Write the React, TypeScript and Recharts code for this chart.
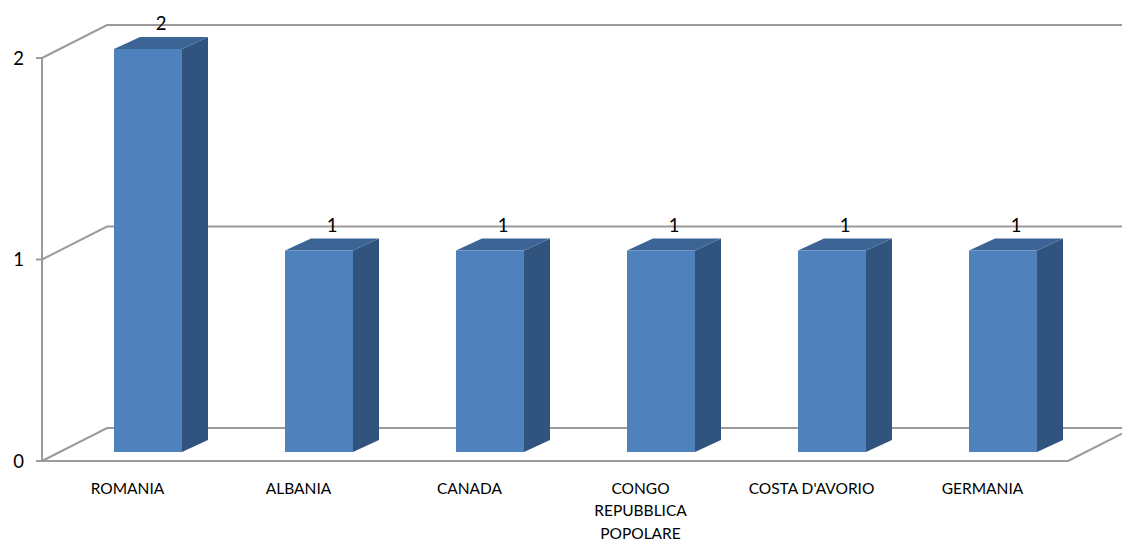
import React from "react";
import { BarChart, Bar, XAxis, YAxis, CartesianGrid, LabelList } from "recharts";

const categories = [
  "ROMANIA",
  "ALBANIA",
  "CANADA",
  "CONGO REPUBBLICA POPOLARE",
  "COSTA D'AVORIO",
  "GERMANIA",
];
const counts = [2, 1, 1, 1, 1, 1];
const yTicks = [0, 1, 2];
const categoryLabelLines = [
  ["ROMANIA"],
  ["ALBANIA"],
  ["CANADA"],
  ["CONGO", "REPUBBLICA", "POPOLARE"],
  ["COSTA D'AVORIO"],
  ["GERMANIA"],
];

const data = categories.map((name, i) => ({ name, value: counts[i] }));

const W = 1122;
const H = 540;
const FONT = "Lato, 'Open Sans', sans-serif";
const LINE = "#9b9b9b";
const WALL_DX = 65;
const WALL_DY = -33;
const FLOOR_Y = 461;
const BAR_SHIFT_X = 20;
const BAR_SHIFT_Y = -9;
const BAR_DX = 26;
const BAR_DY = -12;
const FRONT = "#4f81bd";
const TOP = "#3c6596";
const SIDE = "#31547e";

const GridLine = (props: any) => {
  const { x1, y1, x2 } = props;
  const isFloor = Math.abs(y1 - FLOOR_Y) < 1.5;
  return (
    <g key={`g-${props.index}-${y1}`}>
      <polyline
        points={`${x1},${y1} ${x1 + WALL_DX},${y1 + WALL_DY} ${x2 + WALL_DX + 20},${y1 + WALL_DY}`}
        fill="none"
        stroke={LINE}
        strokeWidth={2}
      />
      {isFloor && (
        <line
          x1={x2}
          y1={y1}
          x2={x2 + WALL_DX}
          y2={y1 + WALL_DY}
          stroke={LINE}
          strokeWidth={2}
        />
      )}
    </g>
  );
};

const Box3D = (props: any) => {
  const { x, y, width, height } = props;
  if (height == null || width == null) return null;
  const fx = x + BAR_SHIFT_X;
  const fy = y + BAR_SHIFT_Y;
  const w = width;
  const h = height;
  return (
    <g>
      <polygon
        points={`${fx + w},${fy} ${fx + w + BAR_DX},${fy + BAR_DY} ${fx + w + BAR_DX},${fy + h + BAR_DY} ${fx + w},${fy + h}`}
        fill={SIDE}
      />
      <polygon
        points={`${fx},${fy} ${fx + w},${fy} ${fx + w + BAR_DX},${fy + BAR_DY} ${fx + BAR_DX},${fy + BAR_DY}`}
        fill={TOP}
      />
      <rect x={fx} y={fy} width={w} height={h} fill={FRONT} />
    </g>
  );
};

const DataLabel = (props: any) => {
  const { x, y, width, value } = props;
  const cx = x + BAR_SHIFT_X + width / 2 + BAR_DX / 2;
  const cy = y + BAR_SHIFT_Y + BAR_DY - 7;
  return (
    <text x={cx} y={cy} textAnchor="middle" fontFamily={FONT} fontSize={18.5} fill="#000">
      {value}
    </text>
  );
};

const XTick = (props: any) => {
  const { x, y, payload } = props;
  const idx = categories.indexOf(payload.value);
  const lines = idx >= 0 ? categoryLabelLines[idx] : [String(payload.value)];
  return (
    <g>
      {lines.map((ln, i) => (
        <text
          key={i}
          x={x}
          y={y + 24.5 + i * 22.5}
          textAnchor="middle"
          fontFamily={FONT}
          fontSize={15.5}
          fill="#000"
        >
          {ln}
        </text>
      ))}
    </g>
  );
};

const YTick = (props: any) => {
  const { y, payload } = props;
  return (
    <text x={24} y={y + 6.5} textAnchor="end" fontFamily={FONT} fontSize={18.5} fill="#000">
      {payload.value}
    </text>
  );
};

export default function App() {
  return (
    <div style={{ position: "absolute", left: 0, top: 0, width: W, height: H, background: "#fff" }}>
      <BarChart
        width={W}
        height={H}
        data={data}
        margin={{ top: 58, right: 54, bottom: 0, left: 0 }}
      >
        <CartesianGrid vertical={false} horizontal={GridLine} />
        <XAxis
          dataKey="name"
          height={79}
          interval={0}
          tickLine={false}
          axisLine={{ stroke: LINE, strokeWidth: 2 }}
          tick={XTick}
        />
        <YAxis
          width={42}
          domain={[0, 2]}
          ticks={yTicks}
          allowDecimals={false}
          tickLine={{ stroke: LINE, strokeWidth: 2 }}
          tickSize={6}
          axisLine={{ stroke: LINE, strokeWidth: 2 }}
          tick={YTick}
        />
        <Bar dataKey="value" barSize={68} shape={Box3D} isAnimationActive={false}>
          <LabelList dataKey="value" content={DataLabel} />
        </Bar>
      </BarChart>
    </div>
  );
}
